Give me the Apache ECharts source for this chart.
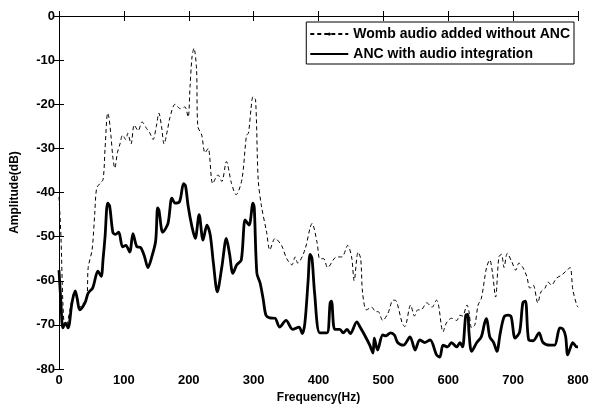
<!DOCTYPE html>
<html>
<head>
<meta charset="utf-8">
<script src="https://cdn.jsdelivr.net/npm/echarts@6/dist/echarts.min.js"></script>
<style>
  html, body { margin: 0; padding: 0; background: #fff; }
  #chart { width: 597px; height: 404px; }
</style>
</head>
<body>
<div id="chart"></div>
<script>
// dashed curve: womb audio without ANC
const freqWomb = [0, 3, 6, 9, 12, 17, 22, 25, 32, 38, 43, 45, 51, 55, 58, 63, 68, 71, 75, 77, 80, 83, 86, 90, 94, 98, 103, 106, 111, 116, 122, 128, 135, 140, 145, 150, 154, 158, 162, 167, 171, 179, 187, 194, 199, 202, 205, 208, 212, 214, 220, 225, 230, 237, 245, 251, 258, 266, 273, 282, 289, 292, 296, 299, 303, 307, 312, 320, 325, 333, 343, 351, 359, 364, 368, 379, 387, 390, 398, 402, 408, 414, 428, 436, 445, 451, 455, 461, 465, 468, 474, 482, 488, 492, 499, 507, 515, 520, 529, 533, 542, 548, 553, 558, 567, 575, 582, 585, 592, 597, 605, 613, 618, 622, 629, 632, 636, 641, 646, 651, 659, 664, 668, 673, 678, 682, 686, 691, 698, 704, 709, 715, 721, 726, 731, 738, 743, 749, 754, 759, 767, 775, 783, 788, 792, 798, 800]
const ampWomb = [-41, -50, -65, -70.5, -70, -66.5, -63, -62.5, -66, -65, -64, -57, -53, -45, -39, -38, -37, -30, -22, -23, -27, -32, -34.5, -31, -29, -27, -28, -26.6, -29, -24.7, -26, -24, -25.5, -26.5, -28, -25, -22, -25, -29, -26, -23, -20, -21, -20.6, -22.9, -16, -9.3, -7.3, -12, -25, -27, -31, -30, -38, -36, -37.5, -33, -38, -40.5, -37, -27, -26.6, -21, -18.3, -19, -37, -43, -49, -53, -50.4, -52, -55, -56.4, -54.6, -56, -53, -48, -47, -51.5, -55, -55, -57, -54.6, -54.6, -52, -54.6, -60, -53.5, -55, -62.8, -66.6, -66, -67, -67, -69, -67.4, -64.4, -64.6, -69.6, -70.4, -65.5, -68, -66.6, -66.6, -65, -66, -64.4, -65.5, -71.6, -69.6, -68.5, -69, -67.8, -68, -65.5, -67, -70.7, -70, -65.5, -64, -57, -55.3, -58, -63.7, -54.6, -54, -57, -53.8, -55.7, -57.6, -56, -57, -59, -61.7, -61, -65, -62.5, -61.7, -60.3, -61, -59.4, -58.7, -57.6, -57, -62, -65.5, -66]

// solid curve: ANC with audio integration
const freqAnc = [0, 3, 6, 10, 14, 20, 25, 28, 32, 40, 45, 52, 60, 65, 68, 71, 75, 78, 83, 87, 92, 98, 103, 109, 114, 120, 126, 132, 137, 143, 149, 152, 154, 160, 168, 174, 179, 186, 192, 195, 199, 205, 210, 216, 222, 228, 233, 238, 244, 251, 258, 263, 268, 274, 281, 287, 293, 299, 301, 305, 310, 315, 319, 325, 333, 340, 350, 360, 370, 375, 379, 384, 387, 390, 394, 402, 413, 418, 420, 425, 433, 438, 444, 449, 459, 464, 471, 479, 484, 486, 491, 499, 504, 511, 517, 522, 531, 541, 549, 556, 564, 572, 582, 587, 592, 599, 605, 613, 618, 622, 627, 630, 632, 636, 644, 651, 656, 659, 664, 670, 675, 680, 686, 692, 697, 703, 710, 715, 719, 724, 731, 740, 746, 757, 764, 772, 777, 781, 784, 788, 792, 798, 800]
const ampAnc = [-57.6, -65, -70.7, -69.6, -70.7, -65, -62.3, -64, -66.6, -65, -62.8, -61.6, -57.8, -59, -55, -50, -42.4, -43, -49, -49.5, -49, -52.3, -52, -53.5, -49.3, -52.3, -52.5, -54.6, -57, -54.6, -51, -43.5, -44, -49, -47, -41.3, -42.4, -42, -38, -38.5, -43, -47.8, -50.4, -45, -50.8, -47.4, -49.5, -56, -62.5, -56.9, -50.4, -54, -58.3, -56.4, -55.3, -46.2, -47.4, -42.4, -43.5, -58.3, -60.5, -64.4, -67.8, -68.4, -68.5, -70.5, -69, -71, -70.5, -72, -69.6, -60, -54, -55, -62.8, -71.8, -71.8, -65, -64.6, -71, -71, -71.8, -71, -72, -69.3, -70.5, -72.3, -74.6, -76.4, -73, -75.7, -72.3, -72.5, -71.8, -72.3, -74, -74.6, -72.7, -75.7, -73.4, -74, -73.4, -76.8, -77.3, -74.6, -75, -74, -75, -74, -75, -67.8, -67.6, -71.8, -76, -74, -72.7, -69.6, -68.6, -72.7, -74, -76, -72, -68.2, -67.8, -68.2, -73, -71.6, -65, -64.6, -73.4, -73.6, -71.8, -74, -74.6, -74.6, -70.7, -71, -72.7, -76.8, -75.3, -74, -75, -75]

const seriesNames = ['Womb audio added without ANC', 'ANC with audio integration']
const xTicks = [0, 100, 200, 300, 400, 500, 600, 700, 800]

const font = '"Liberation Sans", Arial, sans-serif'
const toPairs = (xs, ys) => xs.map((x, i) => [x, ys[i]])

const chart = echarts.init(document.getElementById('chart'))

const hiddenAxis = {
  axisLine: { show: true, lineStyle: { color: '#000', width: 1 } },
  axisTick: { show: true, inside: true, length: 5, lineStyle: { color: '#000' } },
  axisLabel: { show: false },
  splitLine: { show: false },
}

chart.setOption({
  animation: false,
  backgroundColor: '#fff',
  grid: { left: 59, right: 19, top: 16, bottom: 35, outerBoundsMode: 'none' },
  legend: {
    orient: 'vertical',
    right: 23,
    top: 22,
    padding: [4, 4, 2, 3],
    itemGap: 4,
    itemWidth: 38,
    itemHeight: 4,
    backgroundColor: '#fff',
    borderColor: '#000',
    borderWidth: 1,
    borderRadius: 0,
    textStyle: { fontFamily: font, fontWeight: 'bold', fontSize: 14, lineHeight: 16, color: '#000' },
    data: [
      { name: seriesNames[0] },
      { name: seriesNames[1], itemStyle: { color: 'transparent', borderWidth: 0 } },
    ],
  },
  xAxis: [
    {
      type: 'value',
      min: 0,
      max: 800,
      interval: 100,
      name: 'Frequency(Hz)',
      nameLocation: 'middle',
      nameGap: 15,
      nameTextStyle: { fontFamily: font, fontWeight: 'bold', fontSize: 12, color: '#000' },
      axisLine: { lineStyle: { color: '#000', width: 1 } },
      axisTick: { inside: true, length: 5, lineStyle: { color: '#000' } },
      axisLabel: {
        fontFamily: font, fontWeight: 'bold', fontSize: 13, color: '#000', margin: 5,
        formatter: (v) => (xTicks.includes(v) ? String(v) : ''),
      },
      splitLine: { show: false },
    },
    { type: 'value', position: 'top', min: 0, max: 800, interval: 100, ...hiddenAxis },
  ],
  yAxis: [
    {
      type: 'value',
      min: -80,
      max: 0,
      interval: 10,
      name: 'Amplitude(dB)',
      nameLocation: 'middle',
      nameGap: 38,
      nameTextStyle: { fontFamily: font, fontWeight: 'bold', fontSize: 12, color: '#000' },
      axisLine: { show: true, lineStyle: { color: '#000', width: 1 } },
      axisTick: { show: true, inside: true, length: 5, lineStyle: { color: '#000' } },
      axisLabel: { fontFamily: font, fontWeight: 'bold', fontSize: 13, color: '#000', margin: 4 },
      splitLine: { show: false },
    },
    { type: 'value', position: 'right', min: -80, max: 0, interval: 10, ...hiddenAxis },
  ],
  series: [
    {
      name: seriesNames[0],
      type: 'line',
      data: toPairs(freqWomb, ampWomb),
      smooth: 0.3,
      symbol: 'circle',
      symbolSize: 3,
      showSymbol: false,
      itemStyle: { color: '#000' },
      lineStyle: { color: '#000', width: 1, type: [4, 3] },
      z: 3,
    },
    {
      name: seriesNames[1],
      type: 'line',
      data: toPairs(freqAnc, ampAnc),
      smooth: 0.3,
      symbol: 'none',
      itemStyle: { color: '#000' },
      lineStyle: { color: '#000', width: 2.8 },
      z: 2,
    },
  ],
})
</script>
</body>
</html>
